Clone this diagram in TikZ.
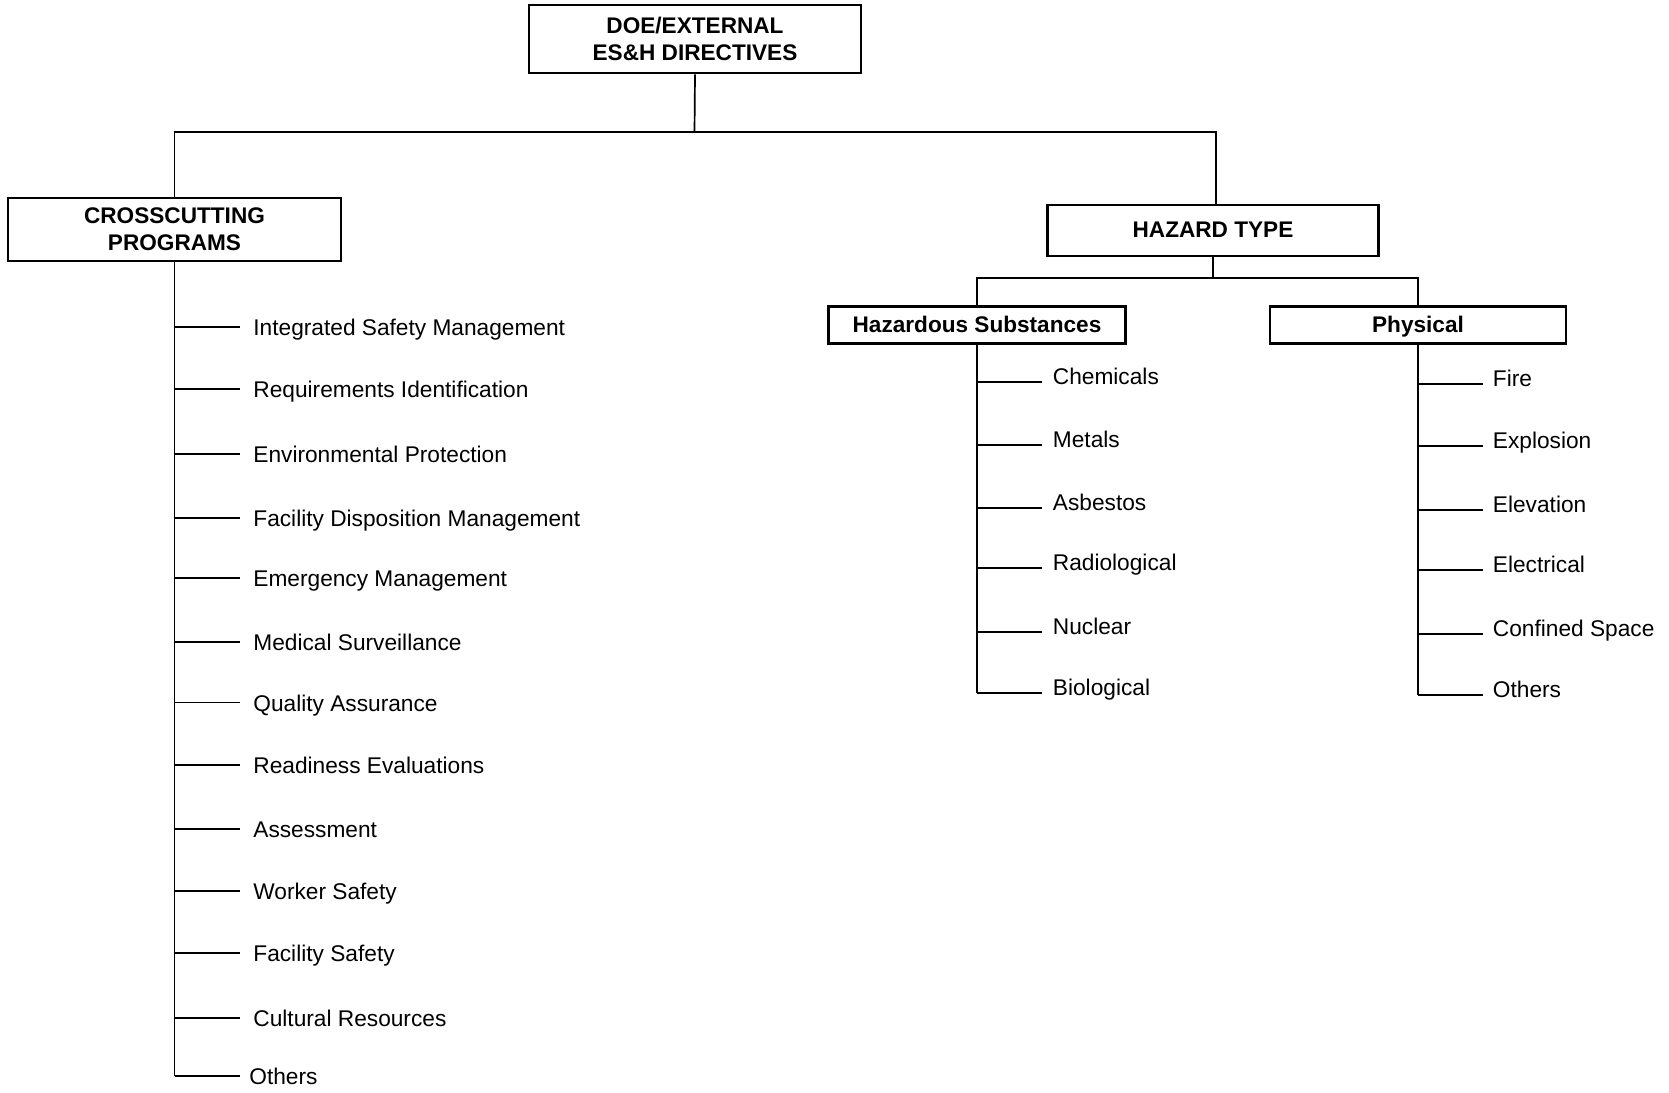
\documentclass[tikz,border=0pt]{standalone}
\usepackage{fontspec}
\setmainfont{Liberation Sans}
\begin{document}
\begin{tikzpicture}[x=0.5pt,y=-0.5pt,
  box/.style={draw,line width=1.35pt,inner sep=0pt,align=center,
    font=\fontsize{11.3}{13.5}\selectfont\bfseries},
  onebox/.style={box,text height=0.716em,text depth=0pt},
  conn/.style={line width=0.85pt},
  item/.style={anchor=base west,inner sep=0pt,font=\fontsize{11.35}{13.5}\selectfont}]
\useasboundingbox (0,0) rectangle (1669,1092);
% boxes
\node[box,minimum width=166pt,minimum height=34pt] (doe) at (695,39) {DOE/EXTERNAL\\ES\&H DIRECTIVES};
\node[box,minimum width=166.5pt,minimum height=31.5pt] (cross) at (174.5,229.5) {CROSSCUTTING\\PROGRAMS};
\node[onebox,minimum width=165.3pt,minimum height=25.5pt] (haz) at (1213,230.5) {HAZARD TYPE};
\node[onebox,minimum width=148.75pt,minimum height=18.5pt] (sub) at (977,325) {Hazardous Substances};
\node[onebox,minimum width=148pt,minimum height=18.5pt] (phys) at (1418,325) {Physical};
% top connectors
\coordinate (j1) at (694.5,132.3);
\coordinate (hzin) at ([xshift=1.35pt]haz.north);
\draw[conn] (doe.south) -- (j1);
\draw[conn] (cross.north) |- (j1) -| (hzin);
\coordinate (j2) at (1213,278.3);
\draw[conn] (haz.south) -- (j2);
\draw[conn] (sub.north) |- (j2) -| (phys.north);
% left list
\foreach \n/\t/\y/\tx in {1/Integrated Safety Management/326.7/253,
  2/Requirements Identification/389.3/253,
  3/Environmental Protection/454/253,
  4/Facility Disposition Management/518/253,
  5/Emergency Management/578/253,
  6/Medical Surveillance/641.8/253,
  7/Quality Assurance/702.5/253,
  8/Readiness Evaluations/765.3/253,
  9/Assessment/829.2/253,
  10/Worker Safety/890.9/253,
  11/Facility Safety/952.7/253,
  12/Cultural Resources/1018.3/253,
  13/Others/1076/249}{
  \node[item] (L\n) at (\tx,{\y+8.5}) {\t};
  \coordinate (Lt\n) at (240,\y);
  \draw[conn] (cross.south |- Lt\n) -- (Lt\n);
}
\draw[conn] (cross.south) -- (cross.south |- Lt13);
% hazardous substances list
\foreach \n/\t/\y in {1/Chemicals/381.7,2/Metals/445,3/Asbestos/508,
  4/Radiological/568,5/Nuclear/632,6/Biological/693}{
  \node[item] (S\n) at (1052.5,{\y+2.5}) {\t};
  \coordinate (St\n) at (1041.7,\y);
  \draw[conn] (sub.south |- St\n) -- (St\n);
}
\draw[conn] (sub.south) -- (sub.south |- St6);
% physical list
\foreach \n/\t/\y in {1/Fire/384.3,2/Explosion/445.7,3/Elevation/510,
  4/Electrical/570,5/Confined Space/634,6/Others/695}{
  \node[item] (P\n) at (1492.5,{\y+2.5}) {\t};
  \coordinate (Pt\n) at (1482.7,\y);
  \draw[conn] (phys.south |- Pt\n) -- (Pt\n);
}
\draw[conn] (phys.south) -- (phys.south |- Pt6);
\end{tikzpicture}
\end{document}
